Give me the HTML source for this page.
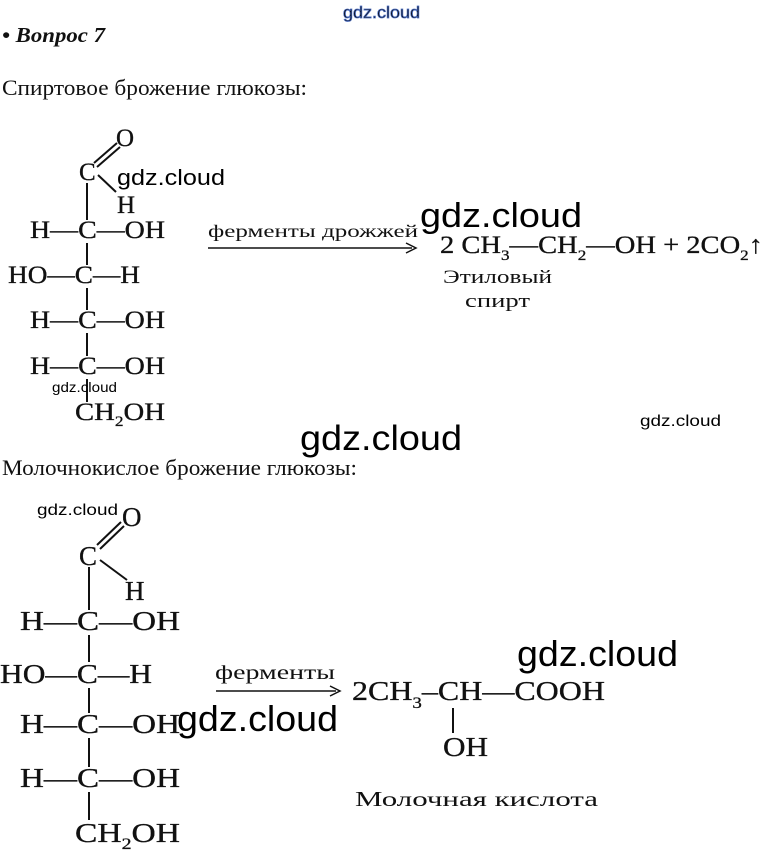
<!DOCTYPE html>
<html><head><meta charset="utf-8"><style>
html,body{margin:0;padding:0;background:#fff;width:765px;height:855px;overflow:hidden}
svg{display:block}
.s{font-family:"Liberation Serif",serif;fill:#111}
.w{font-family:"Liberation Sans","DejaVu Sans",sans-serif;fill:#000}
</style></head><body>
<svg width="765" height="855" viewBox="0 0 765 855" xmlns="http://www.w3.org/2000/svg">
<text x="343" y="18" class="w" font-size="17" fill="#fff" stroke="#4a6cc0" stroke-width="0.8" textLength="77" lengthAdjust="spacingAndGlyphs">gdz.cloud</text>
<text x="2" y="42" class="s" font-size="21" font-weight="bold" font-style="italic" textLength="103" lengthAdjust="spacingAndGlyphs">• Вопрос 7</text>
<text x="2" y="95" class="s" font-size="22" textLength="305" lengthAdjust="spacingAndGlyphs">Спиртовое брожение глюкозы:</text>

<g class="s" font-size="25" stroke="#111" stroke-width="0.3">
<text x="116" y="146">O</text>
<text x="79" y="180">C</text>
<text x="117" y="213">H</text>
<text x="30" y="238" textLength="135" lengthAdjust="spacingAndGlyphs">H—C—OH</text>
<text x="8" y="283" textLength="132" lengthAdjust="spacingAndGlyphs">HO—C—H</text>
<text x="30" y="328" textLength="135" lengthAdjust="spacingAndGlyphs">H—C—OH</text>
<text x="30" y="374" textLength="135" lengthAdjust="spacingAndGlyphs">H—C—OH</text>
<text x="75" y="420" textLength="90" lengthAdjust="spacingAndGlyphs">CH<tspan font-size="15" dy="6">2</tspan><tspan dy="-6">OH</tspan></text>
</g>
<g stroke="#111" stroke-width="2">
<line x1="94" y1="163" x2="117" y2="143"/><line x1="97" y1="167" x2="120" y2="147"/>
<line x1="98" y1="175" x2="116" y2="192"/>
<line x1="87" y1="183" x2="87" y2="220"/>
<line x1="87" y1="243" x2="87" y2="265"/>
<line x1="87" y1="288" x2="87" y2="310"/>
<line x1="87" y1="333" x2="87" y2="356"/>
<line x1="87" y1="379" x2="87" y2="402"/>
</g>
<text x="208" y="237" class="s" font-size="18" textLength="210" lengthAdjust="spacingAndGlyphs">ферменты дрожжей</text>
<line x1="208" y1="248" x2="412" y2="248" stroke="#111" stroke-width="1.5"/>
<path d="M406 243 L416 248 L406 253" fill="none" stroke="#111" stroke-width="1.5"/>
<text x="440" y="253" class="s" font-size="25" stroke="#111" stroke-width="0.3" textLength="323" lengthAdjust="spacingAndGlyphs">2 CH<tspan font-size="15" dy="7">3</tspan><tspan dy="-7">—CH</tspan><tspan font-size="15" dy="7">2</tspan><tspan dy="-7">—OH + 2CO</tspan><tspan font-size="15" dy="7">2</tspan><tspan dy="-7">↑</tspan></text>
<text x="443" y="283" class="s" font-size="19" textLength="109" lengthAdjust="spacingAndGlyphs">Этиловый</text>
<text x="465" y="307" class="s" font-size="19" textLength="65" lengthAdjust="spacingAndGlyphs">спирт</text>

<text x="117" y="185" class="w" font-size="22" textLength="108" lengthAdjust="spacingAndGlyphs">gdz.cloud</text>
<text x="52" y="392" class="w" font-size="14" textLength="65" lengthAdjust="spacingAndGlyphs">gdz.cloud</text>
<text x="420" y="227" class="w" font-size="34" textLength="162" lengthAdjust="spacingAndGlyphs">gdz.cloud</text>
<text x="300" y="450" class="w" font-size="35" textLength="162" lengthAdjust="spacingAndGlyphs">gdz.cloud</text>
<text x="640" y="426" class="w" font-size="16" textLength="81" lengthAdjust="spacingAndGlyphs">gdz.cloud</text>

<text x="2" y="475" class="s" font-size="22" textLength="355" lengthAdjust="spacingAndGlyphs">Молочнокислое брожение глюкозы:</text>
<text x="37" y="515" class="w" font-size="16" textLength="81" lengthAdjust="spacingAndGlyphs">gdz.cloud</text>

<g class="s" font-size="27" stroke="#111" stroke-width="0.3">
<text x="122" y="526">O</text>
<text x="79" y="565">C</text>
<text x="125" y="600">H</text>
<text x="20" y="630" textLength="160" lengthAdjust="spacingAndGlyphs">H—C—OH</text>
<text x="0" y="683" textLength="152" lengthAdjust="spacingAndGlyphs">HO—C—H</text>
<text x="20" y="733" textLength="160" lengthAdjust="spacingAndGlyphs">H—C—OH</text>
<text x="20" y="787" textLength="160" lengthAdjust="spacingAndGlyphs">H—C—OH</text>
<text x="75" y="842" textLength="105" lengthAdjust="spacingAndGlyphs">CH<tspan font-size="16" dy="7">2</tspan><tspan dy="-7">OH</tspan></text>
</g>
<g stroke="#111" stroke-width="2">
<line x1="97" y1="545" x2="121" y2="522"/><line x1="100" y1="549" x2="124" y2="526"/>
<line x1="100" y1="560" x2="127" y2="580"/>
<line x1="89" y1="567" x2="89" y2="610"/>
<line x1="89" y1="635" x2="89" y2="662"/>
<line x1="89" y1="688" x2="89" y2="713"/>
<line x1="89" y1="738" x2="89" y2="767"/>
<line x1="89" y1="792" x2="89" y2="820"/>
</g>
<text x="215" y="679" class="s" font-size="20" textLength="120" lengthAdjust="spacingAndGlyphs">ферменты</text>
<line x1="216" y1="691" x2="336" y2="691" stroke="#111" stroke-width="1.5"/>
<path d="M330 686 L340 691 L330 696" fill="none" stroke="#111" stroke-width="1.5"/>
<text x="352" y="700" class="s" font-size="27" stroke="#111" stroke-width="0.3" textLength="253" lengthAdjust="spacingAndGlyphs">2CH<tspan font-size="16" dy="8">3</tspan><tspan dy="-8">–CH—COOH</tspan></text>
<line x1="453" y1="708" x2="453" y2="733" stroke="#111" stroke-width="2"/>
<text x="443" y="756" class="s" font-size="27" stroke="#111" stroke-width="0.3" textLength="45" lengthAdjust="spacingAndGlyphs">OH</text>
<text x="355" y="806" class="s" font-size="21" textLength="243" lengthAdjust="spacingAndGlyphs">Молочная кислота</text>

<text x="517" y="666" class="w" font-size="36" textLength="161" lengthAdjust="spacingAndGlyphs">gdz.cloud</text>
<text x="177" y="731" class="w" font-size="36" textLength="161" lengthAdjust="spacingAndGlyphs">gdz.cloud</text>
</svg>
</body></html>
